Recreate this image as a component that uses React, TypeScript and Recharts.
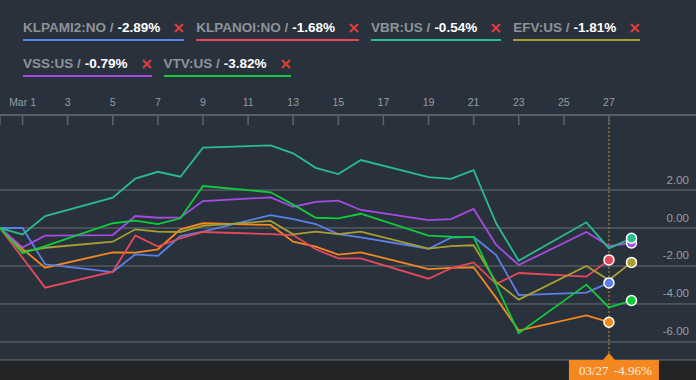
import React from 'react';
import { CartesianGrid, Line, LineChart, ReferenceLine, XAxis, YAxis } from 'recharts';

const BG = '#29323c';
const TEXT_DIM = '#979ca2';
const SANS = '"Liberation Sans", Arial, sans-serif';

// day of month (0 = Feb 28), trading days only
const days = [0, 1, 2, 5, 6, 7, 8, 9, 12, 13, 14, 15, 16, 19, 20, 21, 22, 23, 26, 27, 28];
const xTicks = [0, 1, 3, 5, 7, 9, 11, 13, 15, 17, 19, 21, 23, 25, 27];
const yTicks = [-6, -4, -2, 0, 2];

// % change since start
const fund = [0, -1.1, -2.09, -1.28, -1.3, -1.12, -0.07, 0.25, 0.16, -0.72, -0.98, -1.4, -1.28, -2.16, -2.1, -2.07, -3.68, -5.4, -4.6, -4.96, null];
const klpami2 = [0, 0, -1.91, -2.32, -1.39, -1.47, -0.42, -0.19, 0.68, 0.47, 0.21, -0.32, -0.49, -1.09, -0.51, -0.47, -1.42, -3.53, -3.4, -2.89, null];
const klpanoi = [0, -1.57, -3.14, -2.3, -0.39, -0.98, -0.54, -0.21, -0.32, -0.37, -1.12, -1.6, -1.6, -2.67, -2.12, -1.81, -2.95, -2.37, -2.56, -1.68, null];
const vbr = [0, -0.34, 0.63, 1.6, 2.6, 2.96, 2.7, 4.23, 4.35, 3.93, 3.17, 2.84, 3.58, 2.68, 2.59, 3.04, 0.25, -1.72, 0.3, -1.07, -0.54];
const efv = [0, -1.25, -1.04, -0.72, -0.07, -0.19, -0.21, 0.11, 0.37, -0.33, -0.19, -0.32, -0.19, -1.09, -0.95, -0.91, -2.85, -3.77, -2.0, -2.74, -1.81];
const vss = [0, -1.02, -0.4, -0.37, 0.63, 0.54, 0.56, 1.42, 1.61, 1.12, 1.38, 1.44, 0.95, 0.42, 0.47, 1.0, -0.89, -1.95, -0.21, -0.95, -0.79];
const vtv = [0, -1.33, -0.95, 0.25, 0.39, 0.21, 0.51, 2.21, 1.88, 1.23, 0.54, 0.51, 0.75, -0.4, -0.46, -0.47, -3.0, -5.54, -2.98, -4.18, -3.82];

const legendNames = ['KLPAMI2:NO', 'KLPANOI:NO', 'VBR:US', 'EFV:US', 'VSS:US', 'VTV:US'];
const legendChanges = ['-2.89%', '-1.68%', '-0.54%', '-1.81%', '-0.79%', '-3.82%'];
const legendColors = ['#5b80ea', '#e9485c', '#2bbb8c', '#a89f33', '#a54ce2', '#10cb3c'];

const series = [
  { key: 'fund', color: '#f5871f', values: fund },
  { key: 'klpami2', color: legendColors[0], values: klpami2 },
  { key: 'klpanoi', color: legendColors[1], values: klpanoi },
  { key: 'efv', color: legendColors[3], values: efv },
  { key: 'vss', color: legendColors[4], values: vss },
  { key: 'vbr', color: legendColors[2], values: vbr },
  { key: 'vtv', color: legendColors[5], values: vtv },
];

const rows = days.map((day, i) => {
  const row: Record<string, number | null> = { day };
  series.forEach((s) => (row[s.key] = s.values[i]));
  return row;
});

const lastIndex = (vals: (number | null)[]) => {
  for (let i = vals.length - 1; i >= 0; i--) if (vals[i] !== null) return i;
  return -1;
};

const XTick = (props: any) => {
  const { x, y, payload } = props;
  const v = payload.value;
  return (
    <g>
      {v > 0 && (
        <text x={x} y={y - 9} textAnchor="middle" fill={TEXT_DIM} fontSize={10.5} fontFamily={SANS}>
          {v === 1 ? 'Mar 1' : v}
        </text>
      )}
      <line x1={x} x2={x} y1={y} y2={y + 10} stroke="#5d636b" strokeWidth={1.5} />
    </g>
  );
};

const YTick = (props: any) => {
  const { y, payload } = props;
  return (
    <text x={689} y={y - 6.5} textAnchor="end" fill={TEXT_DIM} fontSize={11.5} fontFamily={SANS}>
      {Number(payload.value).toFixed(2)}
    </text>
  );
};

const HoverLabel = (props: any) => {
  const { viewBox } = props;
  if (!viewBox) return null;
  const x = viewBox.x;
  const bottom = viewBox.y + viewBox.height;
  return (
    <g>
      <polygon points={`${x - 6},${bottom} ${x + 6},${bottom} ${x},${bottom - 7}`} fill="#f5871f" />
      <rect x={x - 40} y={bottom} width={90} height={20} fill="#f5871f" />
      <text x={x - 30} y={bottom + 15} fill="#fbeee0" fontSize={13} fontFamily='"Liberation Serif", "Times New Roman", serif'>
        03/27
      </text>
      <text x={x + 5} y={bottom + 15} fill="#fbeee0" fontSize={13} fontFamily='"Liberation Serif", "Times New Roman", serif'>
        -4.96%
      </text>
    </g>
  );
};

const Cross = () => (
  <svg width={10} height={10} style={{ marginLeft: 14, display: 'block' }}>
    <line x1={1} y1={1} x2={9} y2={9} stroke="#e63c3c" strokeWidth={2} />
    <line x1={9} y1={1} x2={1} y2={9} stroke="#e63c3c" strokeWidth={2} />
  </svg>
);

export default function App() {
  return (
    <div style={{ position: 'absolute', left: 0, top: 0, width: 696, height: 380, background: BG, overflow: 'hidden' }}>
      <div style={{ position: 'absolute', left: 0, top: 360, width: 696, height: 20, background: '#232425' }} />
      <div
        style={{
          position: 'absolute',
          left: 23,
          top: 20,
          width: 650,
          display: 'flex',
          flexWrap: 'wrap',
          columnGap: 12,
          rowGap: 15,
          fontFamily: SANS,
          fontWeight: 700,
          fontSize: 13.5,
          lineHeight: '16px',
        }}
      >
        {legendNames.map((name, i) => (
          <div
            key={name}
            style={{ display: 'flex', alignItems: 'center', paddingBottom: 3, borderBottom: `2px solid ${legendColors[i]}` }}
          >
            <span style={{ color: '#8e9399' }}>{name} / </span>
            <span style={{ color: '#ffffff', marginLeft: 4 }}>{legendChanges[i]}</span>
            <Cross />
          </div>
        ))}
      </div>
      <div style={{ position: 'absolute', left: 0, top: 0 }}>
        <LineChart width={696} height={380} data={rows} margin={{ top: 0, right: 0, bottom: 20, left: 0 }}>
          <CartesianGrid vertical={false} stroke="#6b6f74" strokeWidth={1} />
          <XAxis
            dataKey="day"
            type="number"
            orientation="top"
            height={115}
            domain={[0, 30.86]}
            ticks={xTicks}
            allowDataOverflow
            tickLine={false}
            tickSize={0}
            tickMargin={0}
            axisLine={{ stroke: '#5d636b', strokeWidth: 1.5 }}
            tick={<XTick />}
            interval={0}
          />
          <YAxis
            orientation="right"
            mirror
            width={1}
            domain={[-6.95, 5.95]}
            ticks={yTicks}
            allowDataOverflow
            axisLine={false}
            tickLine={false}
            tick={YTick}
            interval={0}
          />
          <ReferenceLine x={27} stroke="#c48f2c" strokeDasharray="2 2" strokeWidth={1} label={<HoverLabel />} />
          {series.map((s) => {
            const li = lastIndex(s.values);
            return (
              <Line
                key={s.key}
                dataKey={s.key}
                type="linear"
                stroke={s.color}
                strokeWidth={1.8}
                isAnimationActive={false}
                activeDot={false}
                dot={(p: any) =>
                  p.index === li && p.cy != null ? (
                    <circle key={`${s.key}-dot`} cx={p.cx} cy={p.cy} r={5} fill={s.color} stroke="#ffffff" strokeWidth={1.5} />
                  ) : (
                    <g key={`${s.key}-${p.index}`} />
                  )
                }
              />
            );
          })}
        </LineChart>
      </div>
    </div>
  );
}
